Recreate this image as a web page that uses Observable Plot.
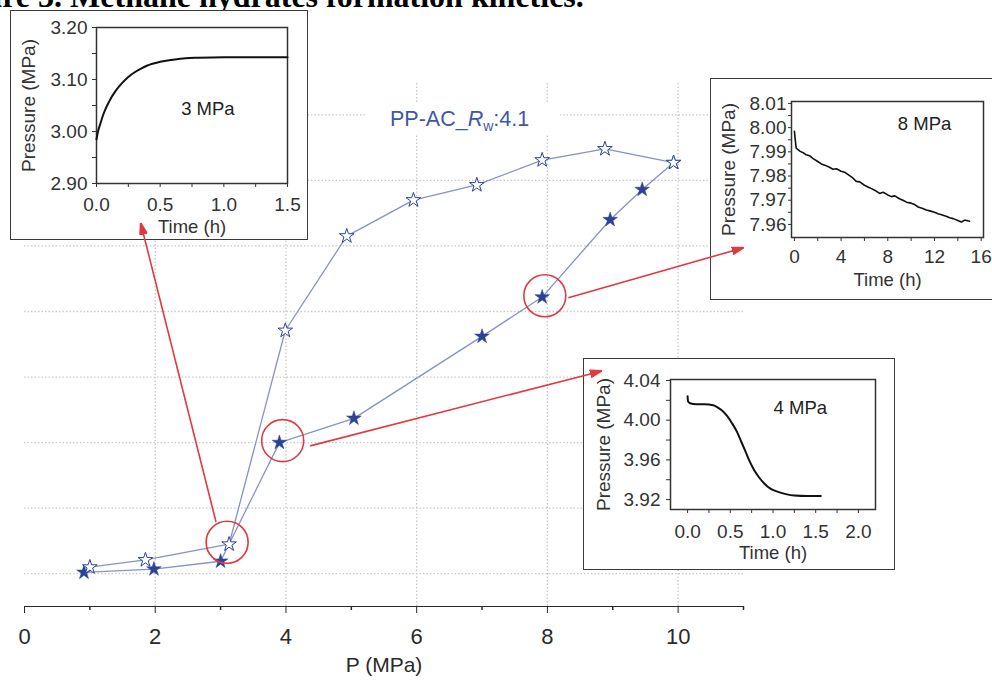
<!DOCTYPE html>
<html><head><meta charset="utf-8">
<script src="https://cdn.jsdelivr.net/npm/d3@7"></script>
<script src="https://cdn.jsdelivr.net/npm/@observablehq/plot@0.6"></script>
<style>
html,body{margin:0;padding:0;background:#fff;}
#root{position:relative;width:992px;height:681px;overflow:hidden;background:#fff;font-family:"Liberation Sans",Arial,sans-serif;}
#root > svg{position:absolute;left:0;top:0;}
.inset{position:absolute;background:#fff;}
.inset .border{position:absolute;left:0;top:0;right:0;bottom:0;border:1.5px solid #3a3a3a;box-sizing:border-box;pointer-events:none;}
.inset svg{position:absolute;left:0;top:0;}
#title{position:absolute;left:-60px;top:-20px;font:bold 32px/32px "Liberation Serif","Times New Roman",serif;white-space:nowrap;color:#000;}
#series{position:absolute;left:367px;top:104px;width:170px;padding:5px 0 5px 23px;background:#fff;font-size:21.5px;line-height:21px;color:#3d58a8;white-space:nowrap;}
#series sub{font-size:14px;line-height:0;vertical-align:-5px;}
#overlay{pointer-events:none;}
</style></head>
<body>
<div id="root">
  <div id="title">Figure 3. Methane hydrates formation kinetics.</div>
</div>
<script>
// ---------- main chart data ----------
const pressureOpen  = [1.00, 1.85, 3.13, 3.99, 4.93, 5.95, 6.92, 7.92, 8.88, 9.93];
const uptakeOpen    = [0.10, 0.21, 0.45, 3.71, 5.15, 5.70, 5.93, 6.31, 6.48, 6.27];
const pressureFilled = [0.91, 1.98, 3.00, 3.90, 5.04, 7.00, 7.92, 8.96, 9.45, 9.93];
const uptakeFilled   = [0.02, 0.07, 0.19, 2.00, 2.37, 3.62, 4.22, 5.40, 5.86, 6.27];
const seriesLabel = "PP-AC_Rw:4.1";
const xTicksMajor = [0, 2, 4, 6, 8, 10];
const xTicksMinor = [1, 3, 5, 7, 9, 11];
const gridY = [0, 1, 2, 3, 4, 5, 6, 7];
const gridX = [2, 4, 6, 8, 10];
const xLabel = "P (MPa)";
// highlighted points (circles) and arrows to the insets
const circleX = [3.10, 3.95, 7.96];
const circleY = [0.48, 2.03, 4.24];
const arrowFromX = [2.93, 4.37, 8.32];
const arrowFromY = [0.79, 1.95, 4.21];
const arrowToX   = [1.78, 8.82, 10.99];
const arrowToY   = [5.34, 3.09, 4.97];

// ---------- inset data ----------
const timeA = [0, 0.01, 0.03, 0.06, 0.10, 0.15, 0.20, 0.25, 0.30, 0.35, 0.40, 0.50, 0.60, 0.70, 0.80, 1.00, 1.50];
const presA = [2.985, 2.998, 3.015, 3.037, 3.058, 3.078, 3.093, 3.105, 3.114, 3.121, 3.127, 3.134, 3.138, 3.141, 3.142, 3.143, 3.143];
const labelA = "3 MPa";

const timeB = [0, 0.05, 0.15, 0.5, 0.8, 1.0, 1.3, 1.6, 2.0, 2.3, 2.6, 3.0, 3.3, 3.6, 4.0, 4.3, 4.6, 5.0, 5.3, 5.6, 6.0, 6.3, 6.6, 7.0, 7.3, 7.6, 8.0, 8.3, 8.6, 9.0, 9.3, 9.6, 10.0, 10.3, 10.6, 11.0, 11.3, 11.6, 12.0, 12.3, 12.6, 13.0, 13.3, 13.6, 14.0, 14.3, 14.6, 15.0];
const presB = [7.9985, 7.9960, 7.9915, 7.9902, 7.9895, 7.9888, 7.9884, 7.9872, 7.9860, 7.9850, 7.9845, 7.9836, 7.9828, 7.9830, 7.9820, 7.9816, 7.9806, 7.9792, 7.9778, 7.9776, 7.9762, 7.9755, 7.9748, 7.9738, 7.9728, 7.9733, 7.9722, 7.9715, 7.9718, 7.9706, 7.9700, 7.9692, 7.9688, 7.9682, 7.9672, 7.9666, 7.9660, 7.9656, 7.9650, 7.9644, 7.9640, 7.9634, 7.9628, 7.9624, 7.9616, 7.9610, 7.9618, 7.9613];
const labelB = "8 MPa";

const timeC = [0, 0.005, 0.03, 0.10, 0.20, 0.30, 0.35, 0.40, 0.46, 0.52, 0.58, 0.63, 0.68, 0.73, 0.78, 0.84, 0.90, 0.97, 1.05, 1.15, 1.25, 1.40, 1.56];
const presC = [4.024, 4.019, 4.017, 4.016, 4.016, 4.015, 4.013, 4.010, 4.0045, 3.997, 3.988, 3.978, 3.968, 3.958, 3.9495, 3.942, 3.936, 3.931, 3.928, 3.9255, 3.924, 3.9235, 3.9235];
const labelC = "4 MPa";

const insetYLabel = "Pressure (MPa)";
const insetXLabel = "Time (h)";

// ---------- styling ----------
const FONT = '"Liberation Sans", Arial, sans-serif';
const lineColor = "#8592c6";
const starColor = "#2c4297";
const red = "#e2383f";
const gridColor = "#c9c9c9";

const root = document.getElementById("root");

const openRows = pressureOpen.map((p, i) => ({p, u: uptakeOpen[i]}));
const filledRows = pressureFilled.map((p, i) => ({p, u: uptakeFilled[i]}));
const circleRows = circleX.map((x, i) => ({x, y: circleY[i]}));
const arrowRows = arrowFromX.map((x, i) => ({x1: x, y1: arrowFromY[i], x2: arrowToX[i], y2: arrowToY[i]}));

const frame = {width: 992, height: 681, marginLeft: 24, marginRight: 249, marginTop: 16, marginBottom: 75};
const xDom = [0, 11], yDom = [-0.5, 8.5];

// ---------- main plot ----------
const main = Plot.plot({
  ...frame,
  style: {fontFamily: FONT, fontSize: "22px", color: "#2a2a2a", background: "transparent", overflow: "visible"},
  x: {domain: xDom, ticks: xTicksMajor, tickSize: 7, tickPadding: 15, tickFormat: d => String(d), line: true, label: null},
  y: {domain: yDom, axis: null},
  marks: [
    Plot.ruleY(gridY, {x1: xDom[0], x2: xDom[1], stroke: gridColor, strokeWidth: 1.3, strokeDasharray: "1.5,2"}),
    Plot.ruleX(gridX, {y1: -0.5, y2: 7.5, stroke: gridColor, strokeWidth: 1.3, strokeDasharray: "1.5,2"}),
    Plot.ruleX(xTicksMinor, {y1: -0.5, y2: -0.5, insetBottom: -4, stroke: "#2a2a2a", strokeWidth: 1.5}),
    Plot.line(filledRows, {x: "p", y: "u", stroke: lineColor, strokeWidth: 1.3}),
    Plot.line(openRows, {x: "p", y: "u", stroke: lineColor, strokeWidth: 1.3}),
    Plot.dot(filledRows, {x: "p", y: "u", symbol: "star", r: 4.6, fill: starColor, stroke: starColor, strokeWidth: 0.5}),
    Plot.dot(openRows, {x: "p", y: "u", symbol: "star", r: 4.6, fill: "white", stroke: starColor, strokeWidth: 1}),
    Plot.dot(circleRows, {x: "x", y: "y", r: 21, fill: "none", stroke: red, strokeWidth: 1.6}),
    Plot.text([xLabel], {frameAnchor: "bottom", dy: 59, text: d => d, fontSize: 21, fill: "#2a2a2a", lineAnchor: "middle"})
  ]
});
root.appendChild(main);

// series label (HTML for italic + subscript)
const lab = document.createElement("div");
lab.id = "series";
lab.innerHTML = "PP-AC_<i>R</i><sub>w</sub>:4.1";
lab.setAttribute("aria-label", seriesLabel);
root.appendChild(lab);

// ---------- insets ----------
function makeInset(o) {
  const wrap = document.createElement("div");
  wrap.className = "inset";
  Object.assign(wrap.style, {left: o.left + "px", top: o.top + "px", width: o.w + "px", height: o.h + "px"});
  const rows = o.t.map((t, i) => ({t, p: o.p[i]}));
  const xMaj = new Set(o.xMajor), yMaj = new Set(o.yMajor);
  const plot = Plot.plot({
    width: o.w, height: o.h,
    marginLeft: o.ml, marginTop: o.mt, marginRight: o.mr, marginBottom: o.mb,
    style: {fontFamily: FONT, fontSize: "19px", color: "#333", background: "transparent", overflow: "visible"},
    x: {domain: o.xDomain, ticks: o.xTicks, tickFormat: d => xMaj.has(d) ? o.xFmt(d) : "", tickSize: o.tsx, tickPadding: o.tpx, label: null},
    y: {domain: o.yDomain, ticks: o.yTicks, tickFormat: d => yMaj.has(d) ? o.yFmt(d) : "", tickSize: o.tsy, tickPadding: o.tpy, label: null},
    marks: [
      Plot.frame({stroke: "#333", strokeWidth: 1.5}),
      Plot.line(rows, {x: "t", y: "p", stroke: "#111", strokeWidth: o.sw, curve: o.curve}),
      Plot.text([o.label], {x: o.labX, y: o.labY, text: d => d, fontSize: 18.5, fill: "#222"}),
      Plot.text([insetYLabel], {frameAnchor: "left", dx: o.ylDx, rotate: -90, textAnchor: "middle", text: d => d, fontSize: 19, fill: "#333"}),
      Plot.text([insetXLabel], {frameAnchor: "bottom", dy: o.xlDy, textAnchor: "middle", text: d => d, fontSize: 18.5, fill: "#333", lineAnchor: "middle"})
    ]
  });
  wrap.appendChild(plot);
  const b = document.createElement("div");
  b.className = "border";
  wrap.appendChild(b);
  root.appendChild(wrap);
}
const f1 = d3.format(".1f"), f2 = d3.format(".2f");

makeInset({left: 10, top: 10, w: 298, h: 230, ml: 86, mt: 17, mr: 21, mb: 57,
  t: timeA, p: presA, label: labelA, labX: 0.875, labY: 3.044,
  xDomain: [0, 1.5], xTicks: [0, 0.25, 0.5, 0.75, 1, 1.25, 1.5], xMajor: [0, 0.5, 1, 1.5], xFmt: f1,
  yDomain: [2.9, 3.2], yTicks: [2.9, 2.95, 3.0, 3.05, 3.1, 3.15, 3.2], yMajor: [2.9, 3.0, 3.1, 3.2], yFmt: f2,
  tsx: 4, tpx: 10, tsy: 4, tpy: 5, ylDx: -68, xlDy: 44, sw: 2, curve: "monotone-x"});

makeInset({left: 710, top: 78, w: 292, h: 222, ml: 81, mt: 23, mr: 19, mb: 63,
  t: timeB, p: presB, label: labelB, labX: 11.15, labY: 8.0014,
  xDomain: [-0.25, 16.2], xTicks: [0, 2, 4, 6, 8, 10, 12, 14, 16], xMajor: [0, 4, 8, 12, 16], xFmt: d => String(d),
  yDomain: [7.9546, 8.0108], yTicks: [7.96, 7.965, 7.97, 7.975, 7.98, 7.985, 7.99, 7.995, 8.0, 8.005, 8.01], yMajor: [7.96, 7.97, 7.98, 7.99, 8.0, 8.01], yFmt: f2,
  tsx: 4, tpx: 8, tsy: 3, tpy: 2, ylDx: -63, xlDy: 43, sw: 1.6, curve: "linear"});

makeInset({left: 583, top: 358, w: 312, h: 212, ml: 87, mt: 21, mr: 20, mb: 61,
  t: timeC, p: presC, label: labelC, labX: 1.32, labY: 4.012,
  xDomain: [-0.2, 2.2], xTicks: [0, 0.25, 0.5, 0.75, 1, 1.25, 1.5, 1.75, 2], xMajor: [0, 0.5, 1, 1.5, 2], xFmt: f1,
  yDomain: [3.910, 4.041], yTicks: [3.92, 3.94, 3.96, 3.98, 4.0, 4.02, 4.04], yMajor: [3.92, 3.96, 4.0, 4.04], yFmt: f2,
  tsx: 4, tpx: 11, tsy: 4, tpy: 6, ylDx: -67, xlDy: 44, sw: 2, curve: "monotone-x"});

// ---------- arrows overlay (drawn above the insets) ----------
function redHead(color, context) {
  const doc = (context && context.document) || document;
  const ns = "http://www.w3.org/2000/svg";
  const m = doc.createElementNS(ns, "marker");
  m.setAttribute("viewBox", "0 -5 12 10");
  m.setAttribute("markerWidth", 12);
  m.setAttribute("markerHeight", 10);
  m.setAttribute("markerUnits", "userSpaceOnUse");
  m.setAttribute("refX", 11);
  m.setAttribute("refY", 0);
  m.setAttribute("orient", "auto");
  const p = doc.createElementNS(ns, "path");
  p.setAttribute("d", "M0,-3.6L12,0L0,3.6Z");
  p.setAttribute("fill", color);
  m.appendChild(p);
  return m;
}
let arrowMark;
try {
  arrowMark = Plot.link(arrowRows, {x1: "x1", y1: "y1", x2: "x2", y2: "y2", stroke: red, strokeWidth: 1.6, markerEnd: redHead});
} catch (e) {
  arrowMark = Plot.arrow(arrowRows, {x1: "x1", y1: "y1", x2: "x2", y2: "y2", stroke: red, strokeWidth: 1.6, headLength: 10, headAngle: 35});
}
let overlay;
try {
  overlay = Plot.plot({...frame, style: {background: "transparent", overflow: "visible"},
    x: {domain: xDom, axis: null}, y: {domain: yDom, axis: null}, marks: [arrowMark]});
} catch (e) {
  overlay = Plot.plot({...frame, style: {background: "transparent", overflow: "visible"},
    x: {domain: xDom, axis: null}, y: {domain: yDom, axis: null},
    marks: [Plot.arrow(arrowRows, {x1: "x1", y1: "y1", x2: "x2", y2: "y2", stroke: red, strokeWidth: 1.6, headLength: 10, headAngle: 35})]});
}
overlay.id = "overlay";
root.appendChild(overlay);
</script>
</body></html>
